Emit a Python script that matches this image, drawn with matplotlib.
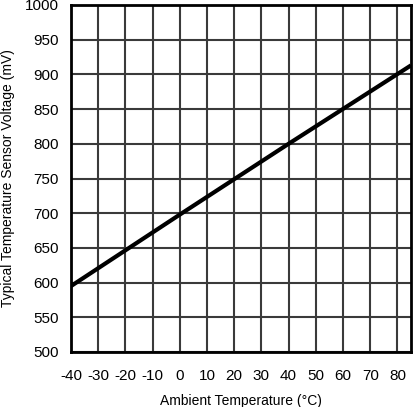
import matplotlib
matplotlib.use('Agg')
import matplotlib.pyplot as plt
import numpy as np

plt.rcParams['font.family'] = ['Liberation Sans', 'DejaVu Sans']
plt.rcParams['axes.unicode_minus'] = False

# data
temp = [-40, 0, 40, 85]
volt = [595, 698, 800, 913]
xticks = list(range(-40, 81, 10))
yticks = list(range(500, 1001, 50))

fig = plt.figure(figsize=(4.13, 4.07), dpi=100)
ax = fig.add_axes([71/413, (407-352)/407, (411-71)/413, (352-5)/407])

ax.plot(temp, volt, color='black', lw=3, solid_capstyle='butt', zorder=3)

ax.set_xlim(-40, 85)
ax.set_ylim(500, 1000)
ax.set_xticks(xticks)
ax.set_yticks(yticks)
ax.grid(True, color='#3a3a3a', lw=1.5)
ax.tick_params(length=0, labelsize=11, pad=9)
ax.tick_params(axis='x', pad=12)
for s in ax.spines.values():
    s.set_linewidth(2)
    s.set_zorder(4)

ax.set_xlabel('Ambient Temperature (°C)', fontsize=10, labelpad=8)
ax.set_ylabel('Typical Temperature Sensor Voltage (mV)', fontsize=10, labelpad=7)

fig.savefig('out.png', dpi=100)
